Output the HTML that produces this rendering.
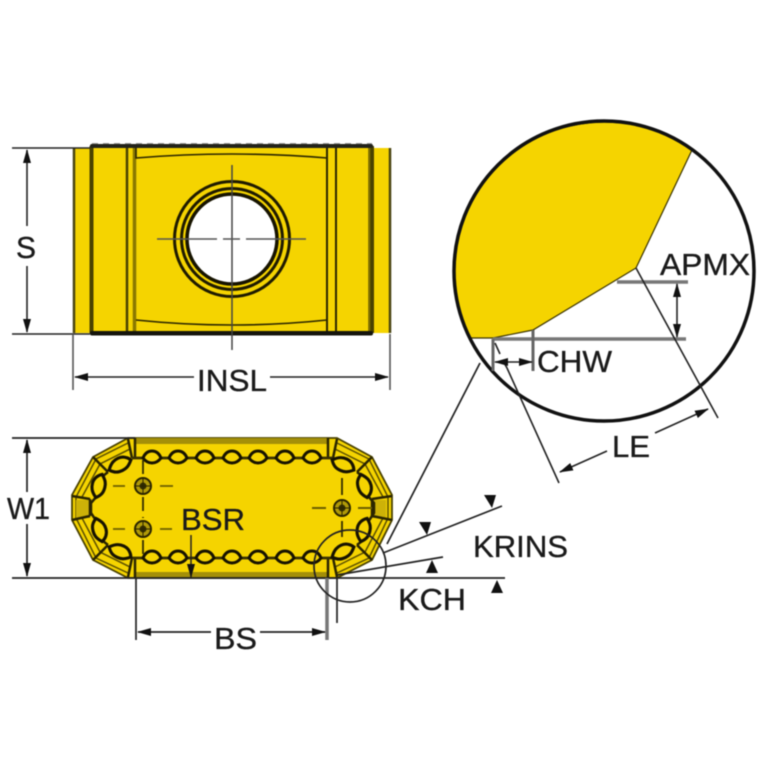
<!DOCTYPE html>
<html><head><meta charset="utf-8"><style>
html,body{margin:0;padding:0;background:#fff;width:767px;height:767px;overflow:hidden}
svg{display:block;filter:blur(.45px)}
text{font-family:"Liberation Sans",sans-serif;font-size:31px;fill:#1a1a1a;stroke:#1a1a1a;stroke-width:.35px}
</style></head><body>
<svg width="767" height="767" viewBox="0 0 767 767" xmlns="http://www.w3.org/2000/svg">
<defs>
<marker id="a" markerWidth="14" markerHeight="8" refX="13" refY="4" orient="auto-start-reverse" markerUnits="userSpaceOnUse"><path d="M0 0L14 4L0 8Z" fill="#111"/></marker>
<g id="bead"><path d="M-9 0C-7 -5 -4 -7 0 -7C4 -7 7 -5 9 0C6 4 3 5 0 5C-3 5 -6 4 -9 0Z" fill="#f5d400" stroke="#171300" stroke-width="3"/></g>
<g id="lens"><path d="M-12 0C-7 -6 -3 -7 1 -7C6 -7 10 -4 12 0C7 5 4 6 0 6C-5 6 -8 5 -12 0Z" fill="#f5d400" stroke="#171300" stroke-width="3.100"/></g>
<g id="hole"><circle r="8" fill="#b09a08" stroke="#2a2400" stroke-width="2"/><circle r="3.500" fill="#332d00"/><path d="M-8 0H8M0 -8V8" stroke="#2a2400" stroke-width="1"/></g>
</defs>
<!-- top view -->
<rect x="73" y="148" width="317" height="185" fill="#f5d400"/>
<g fill="none">
<path d="M74 148V333M390 148V333" stroke="#4a4510" stroke-width="2.500"/>
<path d="M91.500 146V333M372 146V333" stroke="#4a4200" stroke-width="4"/>
<path d="M369 146V333" stroke="#6a5c00" stroke-width="1.500"/>
<path d="M127 146V333" stroke="#4a4200" stroke-width="2.500"/>
<path d="M134.500 146V333" stroke="#8a7800" stroke-width="3.500"/>
<path d="M327 146V333M336 146V333" stroke="#2a2600" stroke-width="2"/>
<path d="M136 146V158Q232 150 327 158V146" stroke="#2a2600" stroke-width="1.600"/>
<path d="M136 320Q232 330 327 320" stroke="#2a2600" stroke-width="1.600"/>
</g>
<rect x="90" y="144" width="283" height="4" rx="2" fill="#23231a"/>
<path d="M92 143.500H372" stroke="#999" stroke-width="1" stroke-dasharray="6 5"/>
<rect x="90" y="331" width="283" height="4.500" rx="2" fill="#15150c"/>
<circle cx="232" cy="239" r="57.500" fill="#f5d400" stroke="#1f1b00" stroke-width="3" />
<circle cx="232" cy="239" r="50.500" fill="#f5d400" stroke="#1f1b00" stroke-width="3"/>
<circle cx="232" cy="239" r="45" fill="#fff" stroke="#171400" stroke-width="3.500"/>
<path d="M232 165V350" stroke="#444" stroke-width="1.500" fill="none"/>
<path d="M157 239H217M223 239H240M246 239H306" stroke="#555" stroke-width="1.400" fill="none"/>
<!-- S / INSL dims -->
<g stroke="#222" stroke-width="1.600" fill="none">
<path d="M12 148H90M12 334H90"/>
<path d="M27 226V150" marker-end="url(#a)"/><path d="M27 266V332" marker-end="url(#a)"/>
<path d="M73 334V390M390 334V390" stroke="#555"/>
<path d="M194 377H75" marker-end="url(#a)"/><path d="M270 377H388" marker-end="url(#a)"/>
</g>
<text x="16" y="258" textLength="20" lengthAdjust="spacingAndGlyphs">S</text>
<text x="197" y="391" textLength="70" lengthAdjust="spacingAndGlyphs">INSL</text>
<!-- bottom view -->
<path d="M128 438H337L372 457L392 495V520L372 560L337 578H128L93 560L72 520V495L93 457Z" fill="#f5d400" stroke="#4a4200" stroke-width="1.800"/>
<path d="M135 438H328V444H135ZM135 572H328V578H135Z" fill="#a48f08"/>
<g fill="none" stroke="#5c5000" stroke-width="1.500">
<path d="M128 443L96 459L76 497V518L96 558L128 573"/>
<path d="M337 443L369 459L388 497V518L369 558L337 573"/>
<path d="M130 449L100 464L82 497M82 518L100 552L130 567"/>
<path d="M335 449L365 464L383 497M383 518L365 552L335 567"/>
</g>
<path d="M76 500H90V518H76Z" fill="#cdb208"/>
<path d="M386 500H372V518H386Z" fill="#cdb208"/>
<g stroke="#2a2500" stroke-width="2.500" fill="none">
<path d="M72 496L90 499M72 520L90 516M90 499V516M392 496L372 499M392 520L372 516M372 499V516" />
<path d="M135 438V458M328 438V458M135 558V578M328 558V578"/>
<path d="M128 439L132 458M337 439L333 458M128 577L132 558M337 577L333 558"/>
<path d="M93 457L108 472M372 457L357 472M93 560L108 545M372 560L357 545"/>
<path d="M132 458H333M132 558H333" stroke="#3a3200" stroke-width="2.800"/>
<path d="M108 472L103 476M97 496L91 503V513L97 522M103 541L108 545"/>
<path d="M357 472L362 476M368 496L374 503V513L368 522M362 541L357 545"/>
</g>
<use href="#bead" x="152" y="458"/><use href="#bead" x="178" y="458"/><use href="#bead" x="205" y="458"/><use href="#bead" x="232" y="458"/><use href="#bead" x="258" y="458"/><use href="#bead" x="285" y="458"/><use href="#bead" x="312" y="458"/>
<use href="#bead" x="152" y="558"/><use href="#bead" x="178" y="558"/><use href="#bead" x="205" y="558"/><use href="#bead" x="232" y="558"/><use href="#bead" x="258" y="558"/><use href="#bead" x="285" y="558"/><use href="#bead" x="312" y="558"/>
<use href="#lens" transform="translate(120 465) rotate(-25)"/><use href="#lens" transform="translate(99 486) rotate(-75)"/><use href="#lens" transform="translate(99 530) rotate(75)"/><use href="#lens" transform="translate(120 552) rotate(25)"/>
<use href="#lens" transform="translate(343 465) rotate(25)"/><use href="#lens" transform="translate(364 486) rotate(75)"/><use href="#lens" transform="translate(364 530) rotate(-75)"/><use href="#lens" transform="translate(343 552) rotate(-25)"/>
<g stroke-width="1.800" fill="none">
<path d="M143 460V475M143 497V518M143 540V556" stroke="#332d00" stroke-dasharray="14 6"/>
<path d="M113 486H125M160 486H173M113 529H125M160 529H172" stroke="#6b5e00"/>
<path d="M312 508H326M358 508H372" stroke="#6b5e00" stroke-width="2"/>
<path d="M342 478V495M342 521V537" stroke="#332d00"/>
</g>
<use href="#hole" x="143" y="486"/><use href="#hole" x="143" y="529"/><use href="#hole" x="342" y="508"/>
<text x="181" y="530" textLength="64" lengthAdjust="spacingAndGlyphs">BSR</text>
<path d="M191 535V577" stroke="#222" stroke-width="1.500" marker-end="url(#a)" fill="none"/>
<g stroke="#222" stroke-width="1.700" fill="none">
<path d="M12 438H135M12 578H505"/>
<path d="M27 492V440" marker-end="url(#a)"/><path d="M27 524V576" marker-end="url(#a)"/>
<path d="M136 578V640"/><path d="M337 578V623"/>
<path d="M327 578V640" stroke="#777" stroke-width="3.500"/>
<path d="M211 632H138" marker-end="url(#a)"/><path d="M260 632H325" marker-end="url(#a)"/>
<circle cx="350" cy="566" r="36"/>
<path d="M337 575L443 557"/>
<path d="M383 553L502 506"/>
<path d="M480 363L387 544"/>
</g>
<g fill="#111">
<path d="M419 522H431L427 535Z"/>
<path d="M484 495H496L492 508Z"/>
<path d="M432 560L438 573H426Z"/>
<path d="M497 580L503 593H491Z"/>
</g>
<text x="7" y="519" textLength="43" lengthAdjust="spacingAndGlyphs">W1</text>
<text x="214" y="649" textLength="43" lengthAdjust="spacingAndGlyphs">BS</text>
<text x="398" y="610" textLength="68" lengthAdjust="spacingAndGlyphs">KCH</text>
<text x="473" y="557" textLength="95" lengthAdjust="spacingAndGlyphs">KRINS</text>
<!-- detail circle -->
<circle cx="604" cy="271" r="150" fill="#fff"/>
<path d="M692 150L636 268L533 330L493 338L470 338A150 150 0 0 1 692 150Z" fill="#f5d400" stroke="#3a3300" stroke-width="1.200"/>
<circle cx="604" cy="271" r="150" fill="none" stroke="#111" stroke-width="3.500"/>
<g fill="none">
<path d="M617 282H688M493 339H686" stroke="#777" stroke-width="3.500"/>
<path d="M493 339V371M533 330V371" stroke="#666" stroke-width="3"/>
<g stroke="#222" stroke-width="1.600">
<path d="M677 284V337" marker-start="url(#a)" marker-end="url(#a)"/>
<path d="M636 268L718 418"/>
<path d="M495 343L500 354M503 361L507 368L559 483" />
<path d="M495 362H532" marker-start="url(#a)" marker-end="url(#a)"/>
<path d="M607 451L560 472" marker-end="url(#a)"/>
<path d="M655 433L708 409" marker-end="url(#a)"/>
</g>
</g>
<text x="660" y="275" textLength="90" lengthAdjust="spacingAndGlyphs">APMX</text>
<text x="537" y="372" textLength="75" lengthAdjust="spacingAndGlyphs">CHW</text>
<text x="612" y="457" textLength="38" lengthAdjust="spacingAndGlyphs">LE</text>
</svg>
</body></html>
